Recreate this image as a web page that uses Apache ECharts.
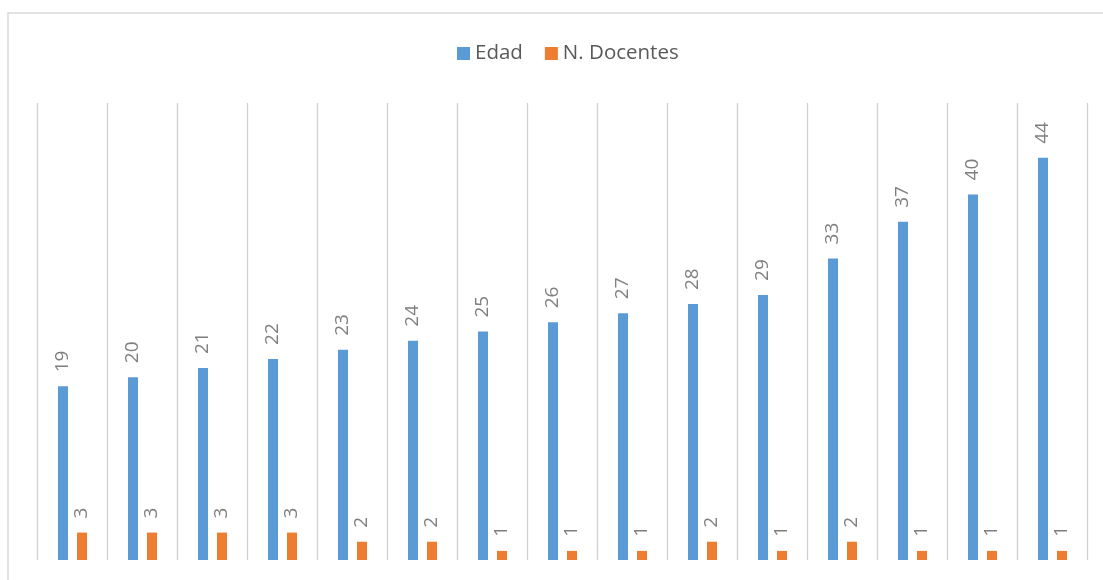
<!DOCTYPE html>
<html>
<head>
<meta charset="utf-8">
<script src="https://cdn.jsdelivr.net/npm/echarts@6/dist/echarts.min.js"></script>
<style>html,body{margin:0;padding:0;background:#fff;}#c{width:1103px;height:580px;}</style>
</head>
<body>
<div id="c"></div>
<script>
var categories = ['1','2','3','4','5','6','7','8','9','10','11','12','13','14','15'];
var edad = [19, 20, 21, 22, 23, 24, 25, 26, 27, 28, 29, 33, 37, 40, 44];
var docentes = [3, 3, 3, 3, 2, 2, 1, 1, 1, 2, 1, 2, 1, 1, 1];

var chart = echarts.init(document.getElementById('c'));
var labelCfg = {
  show: true, position: 'top', rotate: 90, align: 'left', verticalAlign: 'middle',
  distance: 14, color: '#7f7f7f', fontFamily: 'Open Sans', fontSize: 19
};
chart.setOption({
  animation: false,
  graphic: [{
    type: 'rect', silent: true,
    shape: { x: 8, y: 13, width: 1200, height: 700 },
    style: { fill: 'none', stroke: '#d9d9d9', lineWidth: 1.5 }
  }],
  legend: {
    top: 38, left: 452, itemWidth: 13, itemHeight: 13, itemGap: 22,
    icon: 'rect',
    textStyle: { fontFamily: 'Open Sans', fontSize: 20.5, color: '#595959' },
    data: ['Edad', 'N. Docentes']
  },
  grid: { left: 37.5, right: 15.5, top: 103, bottom: 20, containLabel: false },
  xAxis: {
    type: 'category', data: categories, boundaryGap: true,
    axisLine: { show: false }, axisTick: { show: false }, axisLabel: { show: false },
    splitLine: { show: true, interval: 0, lineStyle: { color: '#d0d0d0', width: 1.3 } }
  },
  yAxis: {
    type: 'value', min: 0, max: 50, show: false, splitLine: { show: false }
  },
  series: [
    { name: 'Edad', type: 'bar', data: edad, barWidth: 10, barGap: '90%',
      itemStyle: { color: '#5b9bd5' }, label: labelCfg },
    { name: 'N. Docentes', type: 'bar', data: docentes, barWidth: 10,
      itemStyle: { color: '#ed7d31' }, label: labelCfg }
  ]
});
</script>
</body>
</html>
